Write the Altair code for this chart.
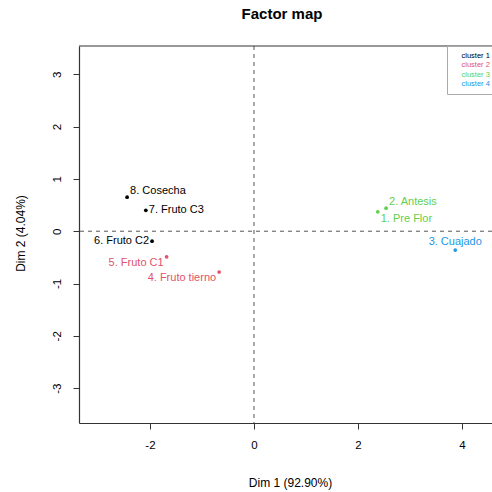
import altair as alt
import pandas as pd

# ---- data ----
names = ["1. Pre Flor", "2. Antesis", "3. Cuajado", "4. Fruto tierno",
         "5. Fruto C1", "6. Fruto C2", "7. Fruto C3", "8. Cosecha"]
dim1 = [2.38, 2.54, 3.87, -0.67, -1.68, -1.96, -2.08, -2.44]
dim2 = [0.37, 0.44, -0.36, -0.78, -0.49, -0.19, 0.40, 0.65]
cluster = ["3", "3", "4", "2", "2", "1", "1", "1"]
# label placement relative to its point (like R's pos argument)
label_pos = ["se", "ne", "n", "sw", "sw", "w", "e", "ne"]

cluster_ids = ["1", "2", "3", "4"]
cluster_colors = ["#000000", "#DF536B", "#61D04F", "#2297E6"]
x_ticks = [-2, 0, 2, 4]
y_ticks = [-3, -2, -1, 0, 1, 2, 3]
x_domain = [-3.365, 4.577]
y_domain = [-3.667, 3.541]

df = pd.DataFrame({"name": names, "dim1": dim1, "dim2": dim2,
                   "cluster": cluster, "pos": label_pos})

W, H = 413, 377
FONT = "Liberation Sans"

x_enc = alt.X("dim1:Q",
              scale=alt.Scale(domain=x_domain, nice=False, zero=False),
              axis=alt.Axis(values=x_ticks, grid=False, tickSize=6, labelPadding=10,
                            labelExpr="'' + datum.value", labelFontSize=11.5,
                            labelFont=FONT, labelColor="black",
                            domainColor="#333", domainWidth=1.2, tickColor="#333",
                            title="Dim 1 (92.90%)", titleFont=FONT, titleFontSize=12,
                            titleFontWeight="normal", titleColor="black",
                            titleX=211, titleY=59, titleAlign="center",
                            titleBaseline="middle"))
y_enc = alt.Y("dim2:Q",
              scale=alt.Scale(domain=y_domain, nice=False, zero=False),
              axis=alt.Axis(values=y_ticks, grid=False, tickSize=6, labelPadding=11,
                            labelExpr="'' + datum.value", labelFontSize=11.5,
                            labelFont=FONT, labelColor="black", labelAngle=270,
                            labelAlign="center", labelBaseline="bottom",
                            domainColor="#333", domainWidth=1.2, tickColor="#333",
                            title="Dim 2 (4.04%)", titleFont=FONT, titleFontSize=12,
                            titleFontWeight="normal", titleColor="black",
                            titleX=-59, titleY=187, titleAngle=270,
                            titleAlign="center", titleBaseline="middle"))
color_enc = alt.Color("cluster:N",
                      scale=alt.Scale(domain=cluster_ids, range=cluster_colors),
                      legend=alt.Legend(orient="none", legendX=368, legendY=0,
                                        title="", labelExpr="'cluster ' + datum.label",
                                        symbolSize=0, symbolOpacity=0,
                                        symbolStrokeWidth=0, labelOffset=1,
                                        labelFontSize=7.5, labelFont=FONT,
                                        labelLimit=200,
                                        rowPadding=0.5, padding=6,
                                        strokeColor="#aaaaaa", fillColor="white",
                                        labelColor={"expr": "scale('color', datum.value)"}))

zero_df = pd.DataFrame({"v": [0]})
vline = alt.Chart(zero_df).mark_rule(strokeDash=[4, 4], color="#555",
                                     strokeWidth=1).encode(x=alt.X("v:Q"))
hline = alt.Chart(zero_df).mark_rule(strokeDash=[4, 4], color="#555",
                                     strokeWidth=1).encode(y=alt.Y("v:Q"))
top_border = alt.Chart(zero_df).mark_rule(color="#333", strokeWidth=1.2).encode(
    x=alt.value(0), x2=alt.value(W), y=alt.value(0))

points = alt.Chart(df).mark_circle(size=14, opacity=1).encode(
    x=x_enc, y=y_enc, color=color_enc)

placements = {
    "ne": ("left", 3, -6),
    "e": ("left", 3, 0),
    "se": ("left", 3, 7),
    "w": ("right", -3, 0),
    "sw": ("right", -3, 6),
    "n": ("center", 0, -8),
}
text_layers = []
for p, (al, dx, dy) in placements.items():
    text_layers.append(
        alt.Chart(df).transform_filter(alt.datum.pos == p).mark_text(
            align=al, baseline="middle", dx=dx, dy=dy, fontSize=11, font=FONT
        ).encode(x=x_enc, y=y_enc, text="name:N", color=color_enc)
    )

title_df = pd.DataFrame({"t": ["Factor map"]})
title = alt.Chart(title_df).mark_text(fontSize=15, fontWeight="bold", font=FONT,
                                      color="black", baseline="middle").encode(
    x=alt.value(203), y=alt.value(-32), text="t:N")

chart = alt.layer(points, vline, hline, top_border, *text_layers, title).properties(
    width=W, height=H,
    padding={"left": 79, "top": 46, "right": 0, "bottom": 69},
    autosize="none",
    background="white",
).configure_view(strokeOpacity=0)

chart.save("out.html", embed_options={"renderer": "svg", "actions": False})
